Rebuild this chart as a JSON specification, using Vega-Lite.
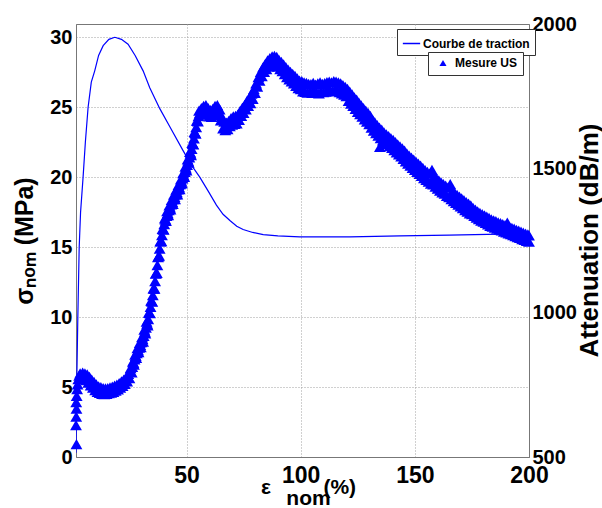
{
"$schema":"https://vega.github.io/schema/vega-lite/v6.json",
"width":453,"height":433,
"autosize":{"type":"none"},
"padding":{"left":76,"top":24,"right":73,"bottom":51},
"background":"white",
"config":{"font":"Liberation Sans","view":{"stroke":"#777777","strokeWidth":1},"axis":{"labelColor":"black","titleColor":"black","domainColor":"#777777"}},
"datasets":{
"tension":[{"e":1.6,"s":0.3},{"e":1.9,"s":5},{"e":2.4,"s":10},{"e":3.0,"s":15},{"e":3.6,"s":17.5},{"e":4.7,"s":20},{"e":5.7,"s":22.5},{"e":6.9,"s":25},{"e":8.3,"s":26.8},{"e":9.8,"s":27.6},{"e":11.5,"s":28.7},{"e":13.5,"s":29.4},{"e":16,"s":29.85},{"e":18.6,"s":30},{"e":21.5,"s":29.85},{"e":24.4,"s":29.5},{"e":27.5,"s":28.7},{"e":31,"s":27.6},{"e":33.9,"s":26.4},{"e":38.3,"s":24.9},{"e":42.7,"s":23.6},{"e":48.5,"s":21.9},{"e":52,"s":20.9},{"e":55.8,"s":20},{"e":59.5,"s":19},{"e":63.1,"s":18},{"e":66,"s":17.35},{"e":69,"s":16.9},{"e":72,"s":16.5},{"e":74.8,"s":16.26},{"e":79,"s":16.05},{"e":83.6,"s":15.9},{"e":90,"s":15.8},{"e":99.6,"s":15.74},{"e":121.6,"s":15.74},{"e":143.5,"s":15.8},{"e":165,"s":15.86},{"e":187.3,"s":15.93},{"e":200,"s":15.95}],
"us":[{"e":1.8,"a":545},{"e":1.6,"a":610},{"e":1.7,"a":640},{"e":1.8,"a":668},{"e":1.7,"a":690},{"e":1.9,"a":712},{"e":2.1,"a":735},{"e":2.3,"a":752},{"e":2.6,"a":770},{"e":3.0,"a":782},{"e":3.4,"a":790},
{"e":4,"a":770},{"e":4.5,"a":792},{"e":5,"a":771},{"e":5.5,"a":790},{"e":6,"a":766},{"e":6.5,"a":786},{"e":7,"a":758},{"e":7.5,"a":778},{"e":8,"a":748},{"e":8.5,"a":768},{"e":9,"a":740},{"e":9.5,"a":760},{"e":10,"a":732},{"e":10.5,"a":752},{"e":11,"a":726},{"e":11.5,"a":745},{"e":12,"a":722},{"e":12.5,"a":742},{"e":13,"a":719},{"e":13.5,"a":739},{"e":14,"a":718},{"e":14.5,"a":738},{"e":15,"a":719},{"e":15.5,"a":739},{"e":16,"a":721},{"e":16.5,"a":741},{"e":17,"a":723},{"e":17.5,"a":744},{"e":18,"a":726},{"e":18.5,"a":747},{"e":19,"a":730},{"e":19.5,"a":751},{"e":20,"a":734},{"e":20.5,"a":756},{"e":21,"a":740},{"e":21.5,"a":762},{"e":22,"a":746},{"e":22.5,"a":768},{"e":23,"a":753},{"e":23.5,"a":776},{"e":24,"a":762},{"e":24.5,"a":788},
{"e":25,"a":773},{"e":25.5,"a":808},{"e":26,"a":793},{"e":26.5,"a":830},{"e":27,"a":820},{"e":27.5,"a":855},{"e":28,"a":843},{"e":28.5,"a":877},{"e":29,"a":863},{"e":29.5,"a":895},{"e":30,"a":881},{"e":30.5,"a":915},{"e":31,"a":900},{"e":31.5,"a":941},{"e":32,"a":928},{"e":32.5,"a":969},{"e":33,"a":956},{"e":33.5,"a":1000},{"e":34,"a":998},{"e":34.5,"a":1042},{"e":35,"a":1038},{"e":35.5,"a":1084},{"e":36,"a":1083},{"e":36.5,"a":1135},{"e":37,"a":1138},{"e":37.5,"a":1192},{"e":38,"a":1198},{"e":38.5,"a":1247},{"e":39,"a":1248},{"e":39.5,"a":1290},{"e":40,"a":1288},{"e":40.5,"a":1327},{"e":41,"a":1318},{"e":41.5,"a":1352},{"e":42,"a":1338},{"e":42.5,"a":1372},{"e":43,"a":1358},{"e":43.5,"a":1391},{"e":44,"a":1377},{"e":44.5,"a":1409},{"e":45,"a":1393},{"e":45.5,"a":1426},{"e":46,"a":1410},{"e":46.5,"a":1443},{"e":47,"a":1428},{"e":47.5,"a":1462},{"e":48,"a":1448},{"e":48.5,"a":1483},{"e":49,"a":1470},{"e":49.5,"a":1506},{"e":50,"a":1493},{"e":50.5,"a":1531},{"e":51,"a":1520},{"e":51.5,"a":1557},{"e":52,"a":1546},{"e":52.5,"a":1588},{"e":53,"a":1583},{"e":53.5,"a":1626},{"e":54,"a":1620},{"e":54.5,"a":1665},{"e":55,"a":1663},{"e":55.5,"a":1700},
{"e":26.25,"a":812},{"e":26.75,"a":826},{"e":27.25,"a":838},{"e":27.75,"a":850},{"e":28.25,"a":860},{"e":28.75,"a":870},{"e":29.25,"a":879},{"e":29.75,"a":888},{"e":30.25,"a":898},{"e":30.75,"a":908},{"e":31.25,"a":920},{"e":31.75,"a":934},{"e":32.25,"a":948},{"e":32.75,"a":962},{"e":33.25,"a":978},{"e":33.75,"a":999},{"e":34.25,"a":1020},{"e":34.75,"a":1040},{"e":35.25,"a":1061},{"e":35.75,"a":1083},{"e":36.25,"a":1109},{"e":36.75,"a":1137},{"e":37.25,"a":1165},{"e":37.75,"a":1195},{"e":38.25,"a":1222},{"e":38.75,"a":1248},{"e":39.25,"a":1269},{"e":39.75,"a":1289},{"e":40.25,"a":1307},{"e":40.75,"a":1322},{"e":41.25,"a":1335},{"e":41.75,"a":1345},{"e":42.25,"a":1355},{"e":42.75,"a":1365},{"e":43.25,"a":1375},{"e":43.75,"a":1384},{"e":44.25,"a":1393},{"e":44.75,"a":1401},{"e":45.25,"a":1410},{"e":45.75,"a":1418},{"e":46.25,"a":1427},{"e":46.75,"a":1435},{"e":47.25,"a":1445},{"e":47.75,"a":1455},{"e":48.25,"a":1465},{"e":48.75,"a":1476},{"e":49.25,"a":1488},{"e":49.75,"a":1500},{"e":50.25,"a":1512},{"e":50.75,"a":1525},{"e":51.25,"a":1538},{"e":51.75,"a":1552},{"e":52.25,"a":1567},{"e":52.75,"a":1585},{"e":53.25,"a":1604},{"e":53.75,"a":1623},{"e":54.25,"a":1643},{"e":54.75,"a":1664},{"e":55.25,"a":1681},{"e":55.75,"a":1690},
{"e":56,"a":1686},{"e":56.5,"a":1709},{"e":57,"a":1691},{"e":57.5,"a":1716},{"e":58,"a":1694},{"e":58.5,"a":1719},{"e":59,"a":1688},{"e":59.5,"a":1709},{"e":60,"a":1680},{"e":60.5,"a":1702},{"e":61,"a":1678},{"e":61.5,"a":1706},{"e":62,"a":1684},{"e":62.5,"a":1716},{"e":63,"a":1692},{"e":63.5,"a":1719},{"e":64,"a":1686},{"e":64.5,"a":1704},{"e":65,"a":1666},{"e":65.5,"a":1679},{"e":66,"a":1638},{"e":66.5,"a":1662},{"e":67,"a":1632},{"e":67.5,"a":1658},{"e":68,"a":1636},{"e":68.5,"a":1664},{"e":69,"a":1646},{"e":69.5,"a":1674},{"e":70,"a":1651},{"e":70.5,"a":1680},{"e":71,"a":1654},{"e":71.5,"a":1682},{"e":72,"a":1656},{"e":72.5,"a":1686},{"e":73,"a":1668},{"e":73.5,"a":1699},{"e":74,"a":1682},{"e":74.5,"a":1710},{"e":75,"a":1692},{"e":75.5,"a":1720},{"e":76,"a":1704},{"e":76.5,"a":1734},{"e":77,"a":1716},{"e":77.5,"a":1744},{"e":78,"a":1726},{"e":78.5,"a":1759},{"e":79,"a":1741},{"e":79.5,"a":1774},{"e":80,"a":1761},{"e":80.5,"a":1794},{"e":81,"a":1783},{"e":81.5,"a":1816},{"e":82,"a":1804},{"e":82.5,"a":1834},{"e":83,"a":1819},{"e":83.5,"a":1850},{"e":84,"a":1834},{"e":84.5,"a":1862},{"e":85,"a":1844},{"e":85.5,"a":1874},{"e":86,"a":1852},{"e":86.5,"a":1882},{"e":87,"a":1857},{"e":87.5,"a":1888},{"e":88,"a":1861},{"e":88.5,"a":1890},{"e":89,"a":1860},{"e":89.5,"a":1886},{"e":90,"a":1852},{"e":90.5,"a":1876},{"e":91,"a":1844},{"e":91.5,"a":1869},{"e":92,"a":1837},{"e":92.5,"a":1860},{"e":93,"a":1826},{"e":93.5,"a":1851},{"e":94,"a":1816},{"e":94.5,"a":1842},{"e":95,"a":1808},{"e":95.5,"a":1834},{"e":96,"a":1801},{"e":96.5,"a":1827},{"e":97,"a":1794},{"e":97.5,"a":1820},{"e":98,"a":1786},{"e":98.5,"a":1812},{"e":99,"a":1778},{"e":99.5,"a":1804},
{"e":100,"a":1774},{"e":100.5,"a":1802},{"e":101,"a":1767},{"e":101.5,"a":1798},{"e":102,"a":1765},{"e":102.5,"a":1796},{"e":103,"a":1762},{"e":103.5,"a":1793},{"e":104,"a":1766},{"e":104.5,"a":1792},{"e":105,"a":1761},{"e":105.5,"a":1796},{"e":106,"a":1765},{"e":106.5,"a":1790},{"e":107,"a":1762},{"e":107.5,"a":1794},{"e":108,"a":1760},{"e":108.5,"a":1798},{"e":109,"a":1765},{"e":109.5,"a":1793},{"e":110,"a":1764},{"e":110.5,"a":1795},{"e":111,"a":1766},{"e":111.5,"a":1799},{"e":112,"a":1767},{"e":112.5,"a":1800},{"e":113,"a":1768},{"e":113.5,"a":1798},{"e":114,"a":1769},{"e":114.5,"a":1802},{"e":115,"a":1770},{"e":115.5,"a":1800},{"e":116,"a":1768},{"e":116.5,"a":1798},{"e":117,"a":1764},{"e":117.5,"a":1794},{"e":118,"a":1760},{"e":118.5,"a":1788},{"e":119,"a":1755},{"e":119.5,"a":1782},{"e":120,"a":1750},{"e":120.5,"a":1775},
{"e":121,"a":1734},{"e":121.5,"a":1766},{"e":122,"a":1724},{"e":122.5,"a":1756},{"e":123,"a":1716},{"e":123.5,"a":1746},{"e":124,"a":1706},{"e":124.5,"a":1738},{"e":125,"a":1696},{"e":125.5,"a":1728},{"e":126,"a":1688},{"e":126.5,"a":1718},{"e":127,"a":1679},{"e":127.5,"a":1709},{"e":128,"a":1670},{"e":128.5,"a":1700},{"e":129,"a":1662},{"e":129.5,"a":1692},{"e":130,"a":1653},{"e":130.5,"a":1682},{"e":131,"a":1641},{"e":131.5,"a":1669},{"e":132,"a":1631},{"e":132.5,"a":1659},{"e":133,"a":1622},{"e":133.5,"a":1650},{"e":134,"a":1613},{"e":134.5,"a":1641},{"e":134.7,"a":1574},{"e":135,"a":1605},{"e":135.5,"a":1634},{"e":136,"a":1597},{"e":136.5,"a":1625},{"e":137,"a":1590},{"e":137.5,"a":1618},{"e":138,"a":1584},{"e":138.5,"a":1612},{"e":139,"a":1577},{"e":139.5,"a":1605},{"e":140,"a":1571},{"e":140.5,"a":1599},{"e":141,"a":1563},{"e":141.5,"a":1591},{"e":142,"a":1555},{"e":142.5,"a":1583},{"e":143,"a":1548},{"e":143.5,"a":1576},{"e":144,"a":1541},{"e":144.5,"a":1569},{"e":145,"a":1533},{"e":145.5,"a":1561},{"e":146,"a":1524},{"e":146.5,"a":1552},{"e":147,"a":1516},{"e":147.5,"a":1544},{"e":148,"a":1509},{"e":148.5,"a":1537},{"e":149,"a":1502},{"e":149.5,"a":1530},{"e":150,"a":1495},{"e":150.5,"a":1523},{"e":151,"a":1488},{"e":151.5,"a":1516},{"e":152,"a":1481},{"e":152.5,"a":1509},{"e":153,"a":1474},{"e":153.5,"a":1502},{"e":154,"a":1466},{"e":154.5,"a":1494},{"e":155,"a":1460},{"e":155.5,"a":1488},{"e":156,"a":1454},{"e":156.5,"a":1482},{"e":157,"a":1447},{"e":157.5,"a":1495},{"e":158,"a":1444},{"e":158.5,"a":1472},{"e":159,"a":1437},{"e":159.5,"a":1465},{"e":160,"a":1430},{"e":160.5,"a":1458},{"e":161,"a":1423},{"e":161.5,"a":1451},{"e":162,"a":1417},{"e":162.5,"a":1445},{"e":163,"a":1412},{"e":163.5,"a":1440},{"e":164,"a":1405},{"e":164.5,"a":1433},{"e":165,"a":1400},{"e":165.5,"a":1445},{"e":166,"a":1393},{"e":166.5,"a":1421},{"e":167,"a":1386},{"e":167.5,"a":1414},{"e":168,"a":1380},{"e":168.5,"a":1408},{"e":169,"a":1374},{"e":169.5,"a":1402},{"e":170,"a":1368},{"e":170.5,"a":1396},{"e":171,"a":1362},{"e":171.5,"a":1390},{"e":172,"a":1355},{"e":172.5,"a":1383},{"e":173,"a":1350},{"e":173.5,"a":1378},{"e":174,"a":1344},{"e":174.5,"a":1372},
{"e":175,"a":1341},{"e":175.5,"a":1363},{"e":176,"a":1335},{"e":176.5,"a":1357},{"e":177,"a":1329},{"e":177.5,"a":1351},{"e":178,"a":1324},{"e":178.5,"a":1346},{"e":179,"a":1319},{"e":179.5,"a":1341},{"e":180,"a":1315},{"e":180.5,"a":1337},{"e":181,"a":1311},{"e":181.5,"a":1333},{"e":182,"a":1306},{"e":182.5,"a":1328},{"e":183,"a":1301},{"e":183.5,"a":1323},{"e":184,"a":1298},{"e":184.5,"a":1320},{"e":185,"a":1295},{"e":185.5,"a":1317},{"e":186,"a":1291},{"e":186.5,"a":1313},{"e":187,"a":1288},{"e":187.5,"a":1310},{"e":188,"a":1285},{"e":188.5,"a":1307},{"e":189,"a":1281},{"e":189.5,"a":1303},{"e":190,"a":1278},{"e":190.5,"a":1312},{"e":191,"a":1275},{"e":191.5,"a":1297},{"e":192,"a":1272},{"e":192.5,"a":1294},{"e":193,"a":1269},{"e":193.5,"a":1291},{"e":194,"a":1265},{"e":194.5,"a":1287},{"e":195,"a":1262},{"e":195.5,"a":1284},{"e":196,"a":1259},{"e":196.5,"a":1281},{"e":197,"a":1255},{"e":197.5,"a":1277},{"e":198,"a":1252},{"e":198.5,"a":1274},{"e":199,"a":1249},{"e":199.5,"a":1271},{"e":200,"a":1246},{"e":200,"a":1268}]
},
"layer":[
{"data":{"name":"tension"},
 "mark":{"type":"line","strokeWidth":1.2,"clip":true},
 "encoding":{
  "x":{"field":"e","type":"quantitative","scale":{"domain":[1.6,200],"nice":false,"zero":false},
   "axis":{"values":[50,100,150,200],"labelFontSize":23,"labelFontWeight":"bold","labelPadding":7,"labelFlush":false,"labelOverlap":false,"ticks":false,"grid":true,"gridDash":[1,2],"gridColor":"#a0a0a0","title":["ε\u00a0\u00a0\u00a0\u00a0\u00a0\u00a0\u00a0\u00a0\u00a0(%)","nom"],"titleFontSize":21,"titleFontWeight":"bold","titleX":232,"titleY":36,"titleBaseline":"alphabetic","titleLineHeight":11}},
  "y":{"field":"s","type":"quantitative","scale":{"domain":[0,30.95],"nice":false,"zero":false},
   "axis":{"values":[0,5,10,15,20,25,30],"labelFontSize":20,"labelFontWeight":"bold","labelPadding":4,"labelFlush":false,"labelOverlap":false,"ticks":false,"grid":true,"gridDash":[1,2],"gridColor":"#a0a0a0","title":"σₙₒₘ (MPa)","titleFontSize":25,"titleFontWeight":"bold","titlePadding":12}},
  "color":{"datum":"Courbe de traction","type":"nominal","scale":{"range":["#0000ff"]},
   "legend":{"orient":"none","legendX":321,"legendY":5,"title":null,"symbolType":"stroke","symbolStrokeWidth":1.5,"symbolSize":300,"labelFont":"Liberation Sans","labelFontWeight":"bold","labelFontSize":12,"labelColor":"black","strokeColor":"#333333","fillColor":"white","padding":5,"labelOffset":2,"cornerRadius":0}}
 }},
{"data":{"name":"us"},
 "mark":{"type":"point","filled":true,"size":140,"opacity":1,"color":"#0000ff"},
 "encoding":{
  "x":{"field":"e","type":"quantitative"},
  "y":{"field":"a","type":"quantitative","scale":{"domain":[500,2000],"nice":false,"zero":false},
   "axis":{"orient":"right","values":[500,1000,1500,2000],"format":"d","labelFont":"Liberation Sans","labelFontSize":20,"labelFontWeight":"bold","labelPadding":3,"labelFlush":false,"labelOverlap":false,"ticks":false,"grid":false,"title":"Attenuation (dB/m)","titleFontSize":26,"titleFontWeight":"bold","titleAngle":270,"titleBaseline":"middle","titleAlign":"center","titleX":60,"titleY":216}},
  "shape":{"datum":"Mesure US","type":"nominal","scale":{"range":["triangle-up"]},
   "legend":{"orient":"none","legendX":352,"legendY":28,"title":null,"symbolType":"triangle-up","symbolFillColor":"#0000ff","symbolStrokeColor":"#0000ff","symbolSize":50,"symbolOffset":4,"labelFont":"Liberation Sans","labelFontWeight":"bold","labelFontSize":12,"labelColor":"black","strokeColor":"#333333","fillColor":"white","padding":5,"labelOffset":6,"cornerRadius":0}}
 }}
],
"resolve":{"scale":{"y":"independent","color":"independent","shape":"independent"}}
}
